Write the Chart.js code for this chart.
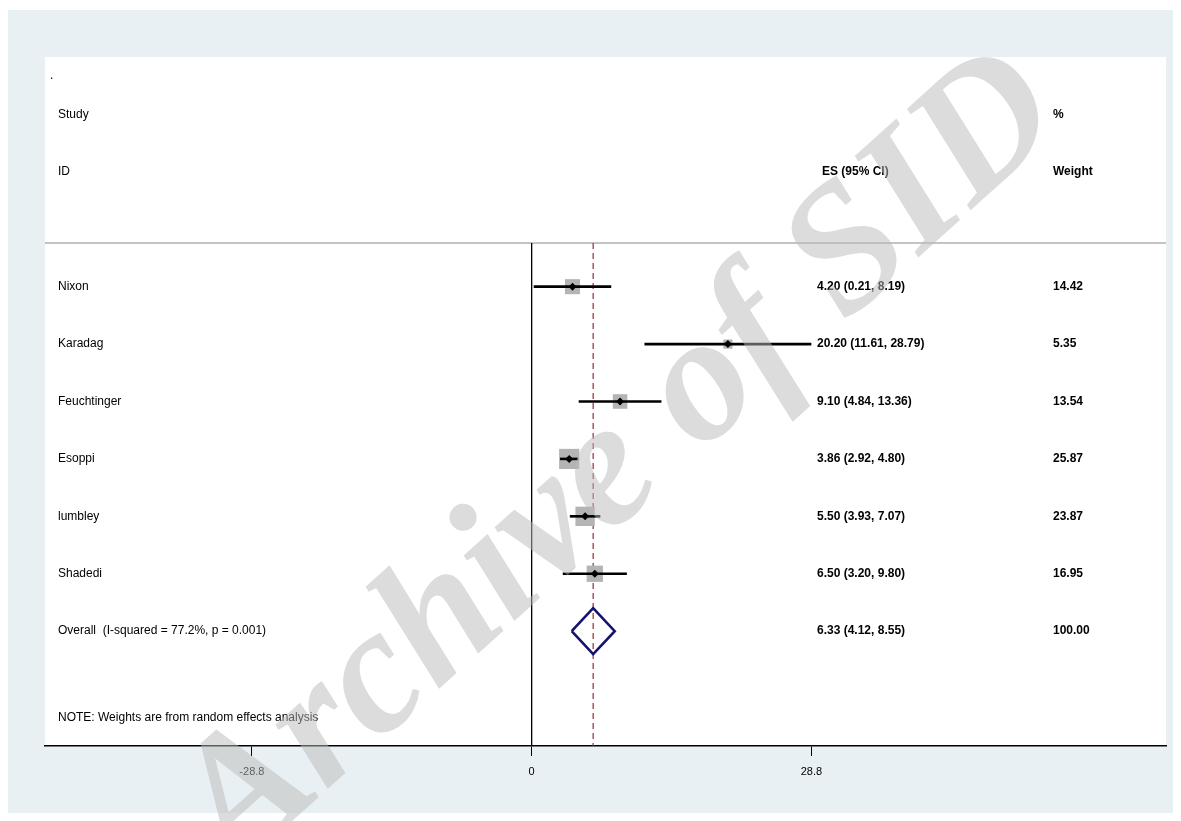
<!DOCTYPE html>
<html><head><meta charset="utf-8">
<script src="https://cdn.jsdelivr.net/npm/chart.js@4.4.0/dist/chart.umd.min.js"></script>
<style>html,body{margin:0;padding:0;background:#fff;overflow:hidden;}</style>
</head><body>
<canvas id="c" width="1181" height="821"></canvas>
<script>
// ---- data ----
const studies = ['Nixon', 'Karadag', 'Feuchtinger', 'Esoppi', 'lumbley', 'Shadedi'];
const effectSizes = [4.20, 20.20, 9.10, 3.86, 5.50, 6.50];
const ciLower = [0.21, 11.61, 4.84, 2.92, 3.93, 3.20];
const ciUpper = [8.19, 28.79, 13.36, 4.80, 7.07, 9.80];
const weights = [14.42, 5.35, 13.54, 25.87, 23.87, 16.95];
const overallEs = 6.33;
const overallLo = 4.12;
const overallHi = 8.55;
const overallWeight = 100.00;
const overallLabel = 'Overall  (I-squared = 77.2%, p = 0.001)';
const noteLabel = 'NOTE: Weights are from random effects analysis';
const tickValues = [-28.8, 0, 28.8];
const tickLabels = ['-28.8', '0', '28.8'];
const watermarkText = 'Archive of SID';

// ---- layout constants ----
const X_MIN = -50.1, X_MAX = 65.3;
const Y_MIN = -3, Y_MAX = studies.length + 3;
const SEP = 0.24;
const overallRow = studies.length + 1;
const noteRow = studies.length + 2.5;
const FONT = '"Liberation Sans", Arial, Helvetica, sans-serif';

const datasets = [];
datasets.push({ data: [{x: X_MIN, y: SEP}, {x: X_MAX, y: SEP}], showLine: true, borderColor: '#c4c4c4', borderWidth: 2, pointRadius: 0, order: 20 });
datasets.push({ data: [{x: 0, y: SEP}, {x: 0, y: Y_MAX}], showLine: true, borderColor: '#000', borderWidth: 1.3, pointRadius: 0, order: 19 });
datasets.push({ data: [{x: overallEs, y: SEP}, {x: overallEs, y: Y_MAX}], showLine: true, borderColor: '#9a2a35', borderWidth: 1.2, borderDash: [6, 4], pointRadius: 0, order: 18 });
datasets.push({ data: studies.map((s, i) => ({x: effectSizes[i], y: i + 1})), pointStyle: 'rect', pointRadius: weights.map(w => 2.8 * Math.sqrt(w)), backgroundColor: '#b4b4b4', borderWidth: 0, showLine: false, order: 17 });
studies.forEach((s, i) => datasets.push({ data: [{x: ciLower[i], y: i + 1}, {x: ciUpper[i], y: i + 1}], showLine: true, borderColor: '#000', borderWidth: 2.6, pointRadius: 0, order: 16 }));
datasets.push({ data: studies.map((s, i) => ({x: effectSizes[i], y: i + 1})), pointStyle: 'rectRot', pointRadius: 4, backgroundColor: '#000', borderWidth: 0, showLine: false, order: 15 });
datasets.push({ data: [{x: overallLo, y: overallRow}, {x: overallEs, y: overallRow - 0.4}, {x: overallHi, y: overallRow}, {x: overallEs, y: overallRow + 0.4}, {x: overallLo, y: overallRow}], showLine: true, borderColor: '#141470', borderWidth: 2.6, borderJoinStyle: 'miter', pointRadius: 0, tension: 0, order: 14 });

const bgPlugin = {
  id: 'bg',
  beforeDraw(chart) {
    const ctx = chart.ctx, a = chart.chartArea;
    ctx.save();
    ctx.fillStyle = '#ffffff';
    ctx.fillRect(0, 0, chart.width, chart.height);
    ctx.fillStyle = '#e8f0f3';
    ctx.fillRect(8, 10, 1165, 803);
    ctx.fillStyle = '#ffffff';
    ctx.fillRect(a.left, a.top, a.right - a.left, a.bottom - a.top);
    ctx.restore();
  }
};

const textPlugin = {
  id: 'texts',
  afterDatasetsDraw(chart) {
    const ctx = chart.ctx, ys = chart.scales.y;
    const yp = v => ys.getPixelForValue(v);
    const reg = '12px ' + FONT, bold = 'bold 12px ' + FONT;
    const put = (t, x, y, f) => { ctx.font = f; ctx.fillText(t, x, yp(y)); };
    ctx.save();
    ctx.fillStyle = '#000';
    ctx.textAlign = 'left';
    ctx.textBaseline = 'middle';
    put('.', 50, -2.67, reg);
    put('Study', 58, -2, reg);
    put('ID', 58, -1, reg);
    put('ES (95% CI)', 822, -1, bold);
    put('%', 1053, -2, bold);
    put('Weight', 1053, -1, bold);
    studies.forEach((s, i) => {
      put(s, 58, i + 1, reg);
      put(effectSizes[i].toFixed(2) + ' (' + ciLower[i].toFixed(2) + ', ' + ciUpper[i].toFixed(2) + ')', 817, i + 1, bold);
      put(weights[i].toFixed(2), 1053, i + 1, bold);
    });
    put(overallLabel, 58, overallRow, reg);
    put(overallEs.toFixed(2) + ' (' + overallLo.toFixed(2) + ', ' + overallHi.toFixed(2) + ')', 817, overallRow, bold);
    put(overallWeight.toFixed(2), 1053, overallRow, bold);
    put(noteLabel, 58, noteRow, reg);
    ctx.restore();
  }
};

const watermarkPlugin = {
  id: 'watermark',
  afterDraw(chart) {
    const ctx = chart.ctx;
    ctx.save();
    ctx.translate(652, 497);
    ctx.rotate(-42 * Math.PI / 180);
    ctx.font = 'italic bold 180px "Liberation Serif", "DejaVu Serif", serif';
    ctx.fillStyle = 'rgba(185,185,185,0.5)';
    ctx.textAlign = 'center';
    ctx.textBaseline = 'alphabetic';
    ctx.fillText(watermarkText, 0, 0);
    ctx.restore();
  }
};

new Chart(document.getElementById('c'), {
  type: 'scatter',
  data: { datasets },
  options: {
    responsive: false,
    animation: false,
    events: [],
    layout: { padding: { left: 45, right: 15, top: 57, bottom: 0 } },
    plugins: { legend: { display: false }, tooltip: { enabled: false } },
    scales: {
      x: {
        type: 'linear', position: 'bottom', min: X_MIN, max: X_MAX,
        afterBuildTicks: s => { s.ticks = tickValues.map(v => ({ value: v })); },
        afterFit: s => { s.height = 75; },
        ticks: {
          callback: v => tickLabels[tickValues.indexOf(v)],
          font: { family: FONT, size: 11 }, color: '#000', padding: 9,
          maxRotation: 0, autoSkip: false
        },
        grid: { drawOnChartArea: false, drawTicks: true, tickLength: 10, color: '#000', lineWidth: 1 },
        border: { display: true, color: '#000', width: 1.5 }
      },
      y: { type: 'linear', display: false, min: Y_MIN, max: Y_MAX, reverse: true }
    }
  },
  plugins: [bgPlugin, textPlugin, watermarkPlugin]
});
</script>
</body></html>
